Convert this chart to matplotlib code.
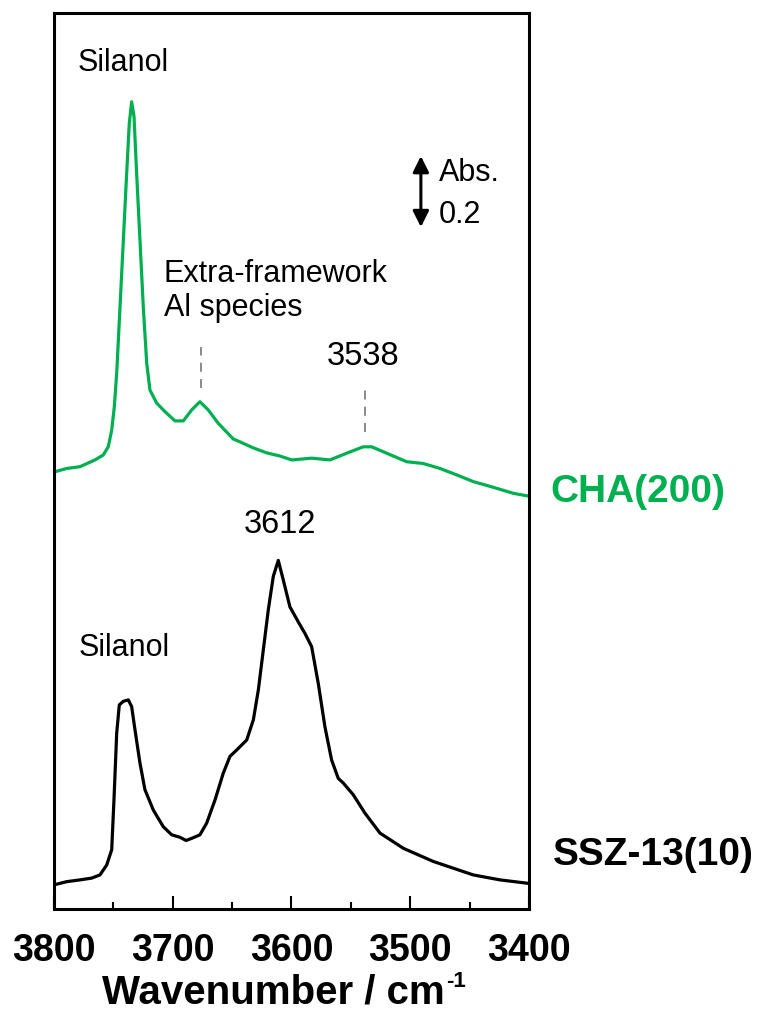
import matplotlib
matplotlib.use("Agg")
import matplotlib.pyplot as plt
from matplotlib.ticker import MultipleLocator

plt.rcParams['font.family'] = ['Liberation Sans', 'DejaVu Sans']

GREEN = '#00b050'

# CHA(200) spectrum, baseline-relative absorbance
cha_wn = [3800, 3789.3, 3778.1, 3765.5, 3758.5, 3754.3, 3751.4, 3749.2, 3747.2,
          3744.4, 3741.6, 3738.8, 3736.6, 3734.6, 3732.6, 3730.4, 3727.6, 3724.8,
          3721.9, 3719.2, 3713.5, 3706.5, 3698.1, 3691.1, 3684.0, 3677.1, 3670.1,
          3661.6, 3649.0, 3643.4, 3632.2, 3620.9, 3609.7, 3599.8, 3592.8, 3583.0,
          3567.6, 3553.5, 3539.5, 3532.5, 3519.8, 3503.0, 3489.0, 3474.9, 3460.9,
          3446.9, 3430.1, 3413.2, 3400]
cha_abs = [0.0, 0.010, 0.015, 0.034, 0.048, 0.071, 0.118, 0.184, 0.278,
           0.465, 0.653, 0.841, 0.982, 1.043, 1.001, 0.841, 0.653, 0.465,
           0.306, 0.231, 0.194, 0.170, 0.144, 0.144, 0.175, 0.198, 0.175,
           0.137, 0.093, 0.085, 0.068, 0.054, 0.045, 0.034, 0.036, 0.039,
           0.034, 0.053, 0.071, 0.071, 0.053, 0.029, 0.024, 0.010, -0.008,
           -0.027, -0.043, -0.060, -0.068]

# SSZ-13(10) spectrum, baseline-relative absorbance
ssz_wn = [3800, 3789.3, 3778.1, 3768.3, 3761.3, 3755.6, 3751.4, 3749.5, 3747.2,
          3745.0, 3741.6, 3737.4, 3734.6, 3731.8, 3727.6, 3723.4, 3716.4, 3708.0,
          3700.9, 3693.9, 3688.8, 3684.0, 3677.1, 3671.4, 3664.4, 3657.4, 3651.8,
          3646.1, 3637.7, 3632.1, 3627.9, 3623.7, 3619.5, 3615.3, 3611.1, 3606.9,
          3601.3, 3594.3, 3588.6, 3583.0, 3577.4, 3571.8, 3566.2, 3560.6, 3556.4,
          3548.0, 3538.1, 3525.5, 3505.8, 3480.6, 3446.9, 3424.4, 3400]
ssz_abs = [0.0, 0.009, 0.014, 0.019, 0.028, 0.056, 0.099, 0.239, 0.427,
           0.507, 0.517, 0.521, 0.502, 0.437, 0.343, 0.268, 0.211, 0.164,
           0.141, 0.134, 0.125, 0.131, 0.141, 0.174, 0.239, 0.315, 0.362,
           0.380, 0.408, 0.465, 0.549, 0.662, 0.775, 0.869, 0.914, 0.859,
           0.783, 0.741, 0.708, 0.671, 0.567, 0.445, 0.352, 0.300, 0.287,
           0.254, 0.202, 0.146, 0.103, 0.066, 0.028, 0.014, 0.004]

cha_offset = 1.231
ssz_offset = 0.068

fig = plt.figure(figsize=(7.66, 10.17), dpi=100)
ax = fig.add_axes([0.0705, 0.1062, 0.620, 0.881])

ax.plot(cha_wn, [a + cha_offset for a in cha_abs], color=GREEN, lw=2.3,
        solid_joinstyle='round', solid_capstyle='round')
ax.plot(ssz_wn, [a + ssz_offset for a in ssz_abs], color='black', lw=2.3,
        solid_joinstyle='round', solid_capstyle='round')

ax.set_xlim(3800, 3400)
ax.set_ylim(0, 2.524)
ax.set_yticks([])
ax.xaxis.set_major_locator(MultipleLocator(100))
ax.xaxis.set_minor_locator(MultipleLocator(50))
ax.tick_params(axis='x', which='major', direction='in', length=9.5, width=1.5,
               labelsize=27, pad=17)
ax.tick_params(axis='x', which='minor', direction='in', length=5, width=1.5)
for lbl in ax.get_xticklabels():
    lbl.set_fontweight('bold')
for sp in ax.spines.values():
    sp.set_linewidth(2.2)

# axis title with a plain hyphen in the superscript
xl = fig.text(0.357, 0.0128, 'Wavenumber / cm', fontsize=29, fontweight='bold',
              ha='center', va='baseline')
ax.annotate('-1', xy=(1, 1), xycoords=xl, xytext=(1, 2),
            textcoords='offset points', fontsize=16, fontweight='bold',
            ha='left', va='top', annotation_clip=False)

# band markers
ax.plot([3676, 3676], [1.468, 1.584], color='#808080', lw=1.3, ls=(0, (5, 4)))
ax.plot([3538, 3538], [1.345, 1.462], color='#808080', lw=1.3, ls=(0, (5, 4)))

ax.text(3780, 2.383, 'Silanol', fontsize=22, ha='left', va='center')
ax.text(3707.4, 1.741, 'Extra-framework\nAl species', fontsize=22,
        ha='left', va='center', linespacing=1.2)
ax.text(3540, 1.555, '3538', fontsize=23.5, ha='center', va='center')
ax.text(3610, 1.082, '3612', fontsize=23.5, ha='center', va='center')
ax.text(3779, 0.735, 'Silanol', fontsize=22, ha='left', va='center')

# 0.2 absorbance scale bar
ax.annotate('', xy=(3491, 2.121), xytext=(3491, 1.921),
            arrowprops=dict(arrowstyle='<|-|>', color='black', lw=2.2,
                            mutation_scale=24, shrinkA=0, shrinkB=0))
ax.text(3476, 2.073, 'Abs.', fontsize=22, ha='left', va='center')
ax.text(3476, 1.955, '0.2', fontsize=22, ha='left', va='center')

ax.text(3382, 1.175, 'CHA(200)', fontsize=28, fontweight='bold', color=GREEN,
        ha='left', va='center', clip_on=False)
ax.text(3380, 0.152, 'SSZ-13(10)', fontsize=28, fontweight='bold', color='black',
        ha='left', va='center', clip_on=False)

fig.savefig('out.png', dpi=100)
